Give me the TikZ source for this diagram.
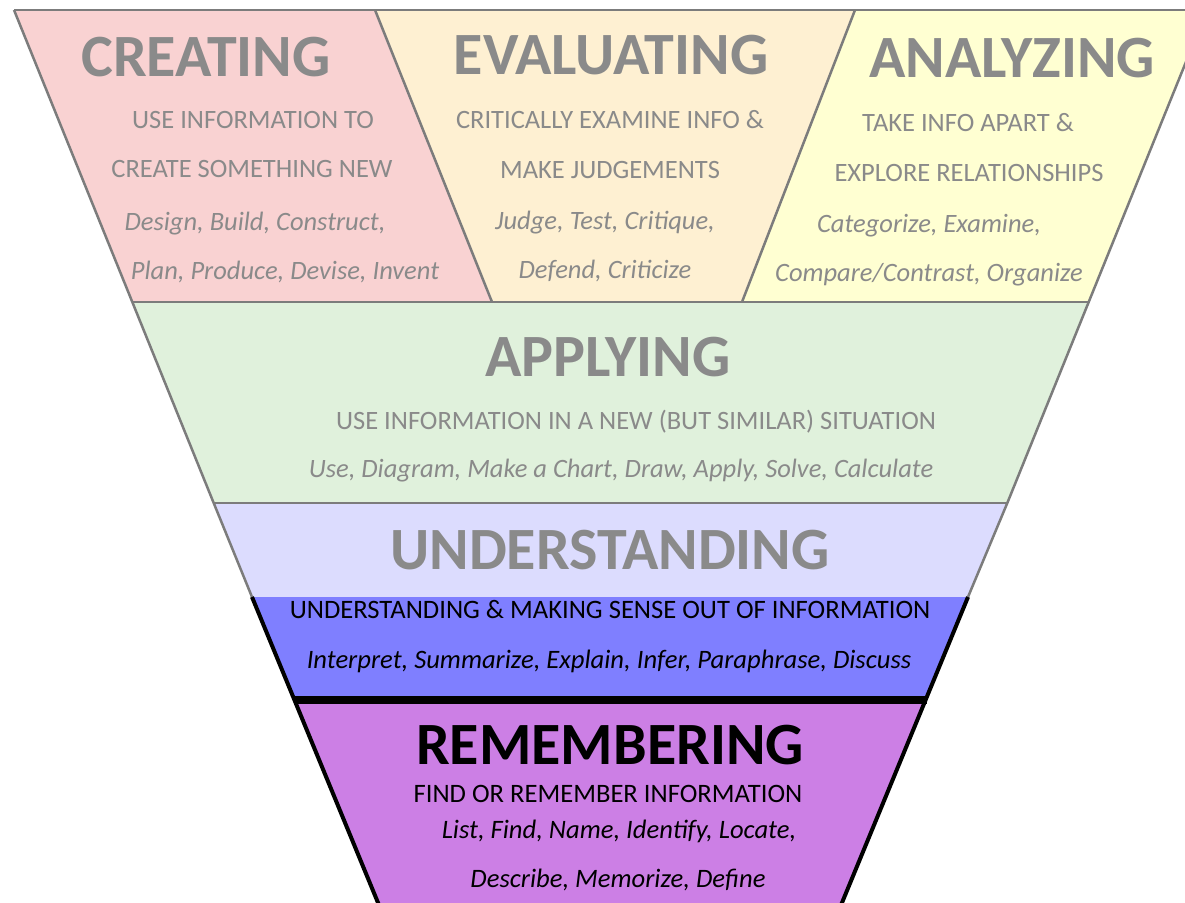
\documentclass[tikz,border=0pt]{standalone}
\usepackage{fontspec}
\setmainfont{Carlito}
\definecolor{fadeC}{HTML}{F9D2D2}
\definecolor{fadeE}{HTML}{FEF0D2}
\definecolor{fadeA}{HTML}{FFFFD2}
\definecolor{fadeP}{HTML}{E0F1DC}
\definecolor{fadeU}{HTML}{DCDCFE}
\definecolor{solidU}{HTML}{7F7FFF}
\definecolor{solidR}{HTML}{CC7FE5}
\definecolor{fadetext}{HTML}{8A8A8A}
\definecolor{fadeline}{HTML}{7C7C7C}
\tikzset{
  fadetitle/.style={anchor=base, inner sep=0pt, text=fadetext, font=\fontsize{60}{60}\selectfont\bfseries},
  fadesub/.style={anchor=base, inner sep=0pt, text=fadetext, font=\fontsize{26.5}{26.5}\selectfont},
  fadeit/.style={anchor=base, inner sep=0pt, text=fadetext, font=\fontsize{26.5}{26.5}\selectfont\itshape},
  solidsub/.style={anchor=base, inner sep=0pt, text=black, font=\fontsize{26.6}{26.6}\selectfont},
  solidit/.style={anchor=base, inner sep=0pt, text=black, font=\fontsize{26.6}{26.6}\selectfont\itshape},
  soldtitle/.style={anchor=base, inner sep=0pt, text=black, font=\fontsize{60}{60}\selectfont\bfseries},
  fadeedge/.style={draw=fadeline, line width=2.5pt},
  solidedge/.style={draw=black, line width=4pt},
}
\begin{document}
\begin{tikzpicture}[x=1pt,y=-1pt]
\useasboundingbox (0,0) rectangle (1185,902);
\clip (0,0) rectangle (1185,902);
% outline points
\coordinate (tl) at (14,10);
\coordinate (l1) at (132.3,302);
\coordinate (l2) at (213.7,503);
\coordinate (l3) at (252,597);
\coordinate (l4) at (294.5,700);
\coordinate (lb) at (381,910);
\coordinate (tr) at (1207,10);
\coordinate (r1) at (1088.7,302);
\coordinate (r2) at (1007.3,503);
\coordinate (r3) at (968,597);
\coordinate (r4) at (926.5,700);
\coordinate (rb) at (839,910);
\coordinate (d1t) at (375,10);
\coordinate (d1b) at (492,302);
\coordinate (d2t) at (855,10);
\coordinate (d2b) at (742,302);
% fills
\fill[fadeC] (tl) -- (d1t) -- (d1b) -- (l1) -- cycle;
\fill[fadeE] (d1t) -- (d2t) -- (d2b) -- (d1b) -- cycle;
\fill[fadeA] (d2t) -- (tr) -- (r1) -- (d2b) -- cycle;
\fill[fadeP] (l1) -- (r1) -- (r2) -- (l2) -- cycle;
\fill[fadeU] (l2) -- (r2) -- (r3) -- (l3) -- cycle;
\fill[solidU] (l3) -- (r3) -- (r4) -- (l4) -- cycle;
\fill[solidR] (l4) -- (r4) -- (rb) -- (lb) -- cycle;
% faded outlines
\draw[fadeedge] (tl) -- (tr);
\draw[fadeedge] (tl) -- (l1) -- (l2) -- (l3);
\draw[fadeedge] (tr) -- (r1) -- (r2) -- (r3);
\draw[fadeedge] (l1) -- (r1);
\draw[fadeedge] (l2) -- (r2);
\draw[fadeedge] (d1t) -- (d1b);
\draw[fadeedge] (d2t) -- (d2b);
% solid outlines
\draw[solidedge] (l3) -- (lb);
\draw[solidedge] (r3) -- (rb);
\draw[draw=black, line width=8pt] (l4) -- (r4);
% creating
\node[fadetitle] (creT) at (206,76) {CREATING};
\node[fadesub] (cre1) at (253,128) {USE INFORMATION TO};
\node[fadesub] (cre2) at (252,177) {CREATE SOMETHING NEW};
\node[fadeit] (cre3) at (255,230) {Design, Build, Construct,};
\node[fadeit] (cre4) at (285,279) {Plan, Produce, Devise, Invent};
% evaluating
\node[fadetitle] (evaT) at (611,74) {EVALUATING};
\node[fadesub] (eva1) at (610,128) {CRITICALLY EXAMINE INFO \&};
\node[fadesub] (eva2) at (610,178) {MAKE JUDGEMENTS};
\node[fadeit] (eva3) at (605,229) {Judge, Test, Critique,};
\node[fadeit] (eva4) at (605,278) {Defend, Criticize};
% analyzing
\node[fadetitle] (anaT) at (1012,77) {ANALYZING};
\node[fadesub] (ana1) at (968,131) {TAKE INFO APART \&};
\node[fadesub] (ana2) at (969,181) {EXPLORE RELATIONSHIPS};
\node[fadeit] (ana3) at (929,232) {Categorize, Examine,};
\node[fadeit] (ana4) at (929,281) {Compare/Contrast, Organize};
% applying
\node[fadetitle] (appT) at (608,376) {APPLYING};
\node[fadesub] (app1) at (636,429) {USE INFORMATION IN A NEW (BUT SIMILAR) SITUATION};
\node[fadeit] (app2) at (621,477) {Use, Diagram, Make a Chart, Draw, Apply, Solve, Calculate};
% understanding
\node[fadetitle] (undT) at (610,569) {UNDERSTANDING};
\node[solidsub] (und1) at (610,618) {UNDERSTANDING \& MAKING SENSE OUT OF INFORMATION};
\node[solidit] (und2) at (609,668) {Interpret, Summarize, Explain, Infer, Paraphrase, Discuss};
% remembering
\node[soldtitle] (remT) at (610,764) {REMEMBERING};
\node[solidsub] (rem1) at (608,802) {FIND OR REMEMBER INFORMATION};
\node[solidit] (rem2) at (619,838) {List, Find, Name, Identify, Locate,};
\node[solidit] (rem3) at (618,887) {Describe, Memorize, Define};
\end{tikzpicture}
\end{document}
